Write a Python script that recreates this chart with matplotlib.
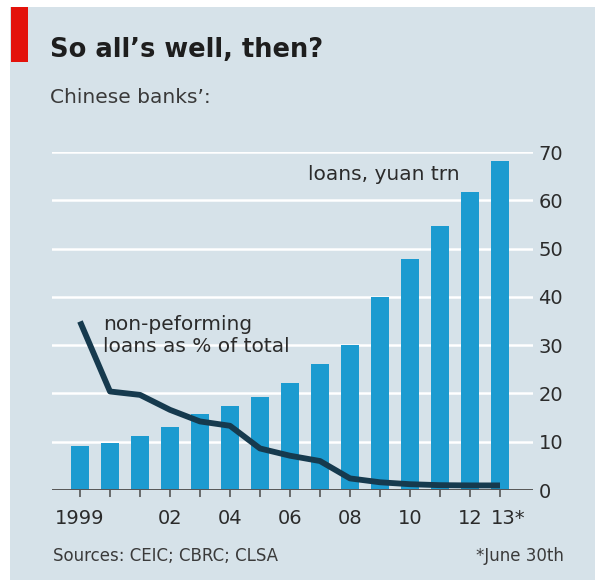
import matplotlib
matplotlib.use("Agg")
import matplotlib.pyplot as plt
from matplotlib.patches import Rectangle
from matplotlib.transforms import ScaledTranslation

# Chinese banks: total loans (yuan trn) and non-performing loans (% of total)
years = list(range(1999, 2014))
loans = [9.2, 9.7, 11.1, 13.1, 15.7, 17.5, 19.3, 22.2, 26.0, 30.1,
         39.9, 47.9, 54.7, 61.8, 68.2]
npl_pct = [34.9, 20.4, 19.7, 16.6, 14.2, 13.3, 8.6, 7.1, 6.0, 2.4,
           1.6, 1.2, 1.0, 0.95, 0.95]
xlabels = {1999: "1999", 2002: "02", 2004: "04", 2006: "06",
           2008: "08", 2010: "10", 2012: "12", 2013: "13*"}
yticks = [0, 10, 20, 30, 40, 50, 60, 70]

bg = "#d6e2e9"
bar_col = "#1c9bd0"
line_col = "#163a4e"
txt = "#2b2b2b"

fig = plt.figure(figsize=(5.95, 5.8), dpi=100)
fig.patch.set_facecolor("white")
W, H = 595, 580

def fx(px):
    return px / W

def fy(py):
    return 1 - py / H

# panel background and red tag, kept under the axes
fig.patches.append(Rectangle((fx(10), 0), 1 - fx(10), fy(7), transform=fig.transFigure,
                             facecolor=bg, edgecolor="none", zorder=-2))
fig.patches.append(Rectangle((fx(11), fy(62)), fx(17), fy(7) - fy(62),
                             transform=fig.transFigure, facecolor="#e3120b",
                             edgecolor="none", zorder=-1))

fig.text(fx(50), fy(50), "So all\u2019s well, then?", fontsize=18.5, fontweight="bold",
         color="#1e1e1e", va="center", ha="left")
fig.text(fx(50), fy(97), "Chinese banks\u2019:", fontsize=14.5, color="#3a3a3a",
         va="center", ha="left")

ax = fig.add_axes([fx(52), fy(490), fx(533) - fx(52), fy(152) - fy(490)])
ax.set_facecolor("none")
ax.set_xlim(1999 - 28 / 30, 2013 + 33 / 30)
ax.set_ylim(0, 70)

ax.bar(years, loans, width=0.57, color=bar_col, zorder=2)
ax.plot(years, npl_pct, color=line_col, lw=4.2, solid_joinstyle="round",
        solid_capstyle="butt", zorder=4, clip_on=False)

for s in ax.spines.values():
    s.set_visible(False)
ax.axhline(0, color="#555555", lw=1.4, zorder=3)

ax.set_yticks(yticks)
ax.yaxis.tick_right()
ax.tick_params(axis="y", length=0, pad=4, labelsize=14, labelcolor=txt)
ax.yaxis.grid(True, color="white", lw=1.8, zorder=1)
ax.set_axisbelow(True)

ax.set_xticks(years)
ax.set_xticklabels([xlabels.get(y, "") for y in years])
ax.tick_params(axis="x", length=5, width=1.2, color="#555555", direction="out",
               pad=9, labelsize=14, labelcolor=txt)
last = ax.get_xticklabels()[-1]
last.set_ha("left")
last.set_transform(last.get_transform() + ScaledTranslation(-9 / 100, 0, fig.dpi_scale_trans))

ax.text(2006.6, 65.3, "loans, yuan trn", fontsize=14.5, color=txt,
        ha="left", va="center", zorder=5)
ax.text(1999.77, 32.0, "non-peforming\nloans as % of total", fontsize=14.5,
        color=txt, ha="left", va="center", linespacing=1.15, zorder=5)

fig.text(fx(53), fy(556), "Sources: CEIC; CBRC; CLSA", fontsize=12, color="#3a3a3a",
         ha="left", va="center")
fig.text(fx(564), fy(556), "*June 30th", fontsize=12, color="#3a3a3a",
         ha="right", va="center")

fig.savefig("out.png", dpi=100, facecolor=fig.get_facecolor())
